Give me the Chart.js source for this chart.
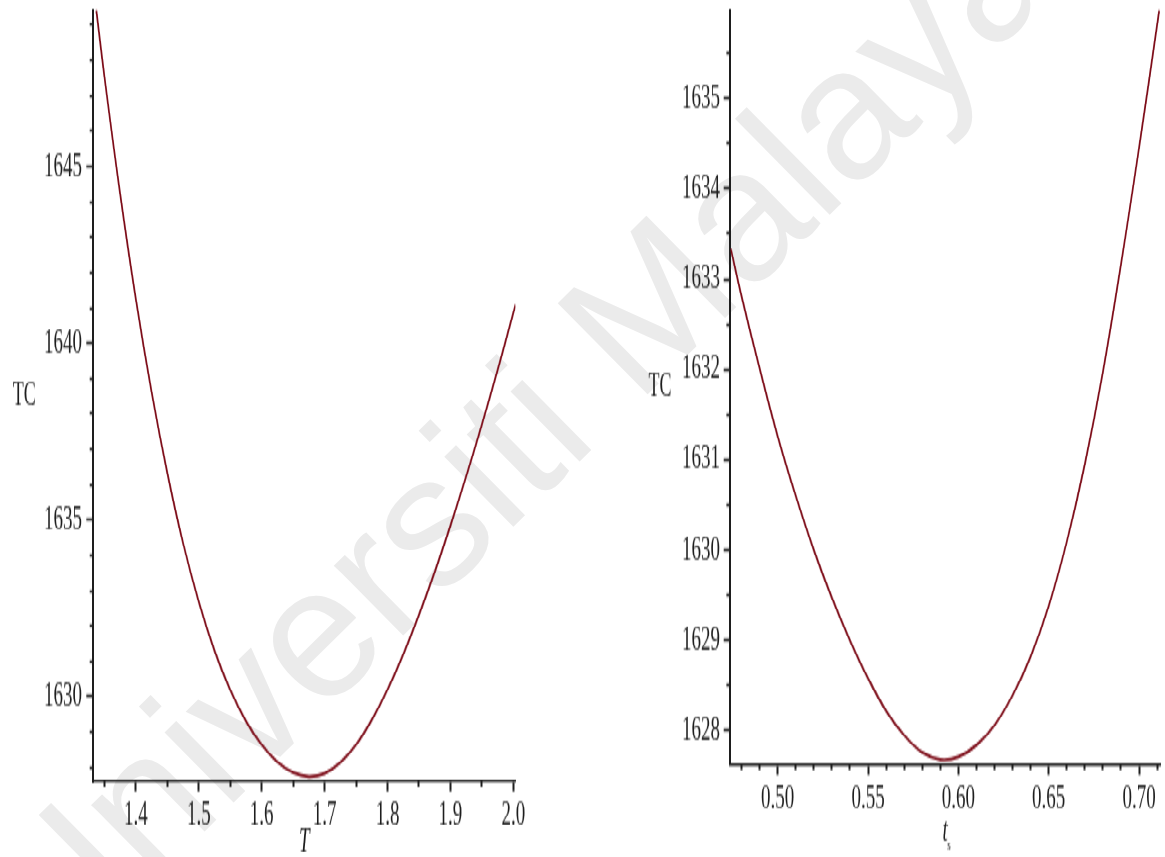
<!DOCTYPE html>
<html>
<head>
<meta charset="utf-8">
<script src="https://cdn.jsdelivr.net/npm/chart.js@4.4.1/dist/chart.umd.min.js"></script>
<style>
  html, body { margin: 0; padding: 0; background: #ffffff; overflow: hidden; }
  #page { position: relative; width: 1165px; height: 857px; }
  #mark { position: absolute; left: 0; top: 0; z-index: 0; }
  #stage {
    position: absolute; left: 0; top: 0; width: 1165px; height: 476px; z-index: 1;
    transform: scaleY(1.80042); transform-origin: 0 0;
  }
  #stage canvas { position: absolute; top: 0; }
  #leftPlot { left: 0; }
  #rightPlot { left: 600px; }
</style>
</head>
<body>
<div id="page">
  <canvas id="mark" width="1165" height="857"></canvas>
  <div id="stage">
    <canvas id="leftPlot" width="560" height="476"></canvas>
    <canvas id="rightPlot" width="565" height="476"></canvas>
  </div>
</div>
<script>
// ---- total cost TC against cycle length T ----
const cycleT = [1.3369, 1.35, 1.375, 1.40, 1.425, 1.45, 1.475, 1.50, 1.525, 1.55,
                1.575, 1.60, 1.625, 1.65, 1.675, 1.70, 1.725, 1.75, 1.775, 1.80,
                1.825, 1.85, 1.875, 1.90, 1.925, 1.95, 1.975, 2.00, 2.0035];
const costByT = [1649.43, 1647.53, 1644.21, 1641.23, 1638.61, 1636.32, 1634.34, 1632.68, 1631.30, 1630.19,
                 1629.31, 1628.64, 1628.15, 1627.85, 1627.74, 1627.83, 1628.14, 1628.64, 1629.34, 1630.20,
                 1631.20, 1632.32, 1633.53, 1634.84, 1636.23, 1637.70, 1639.24, 1640.86, 1641.08];

// ---- total cost TC against t_s ----
const shortT = [0.4741, 0.48, 0.49, 0.50, 0.51, 0.52, 0.53, 0.54, 0.55, 0.56, 0.57, 0.58, 0.59,
                0.60, 0.61, 0.62, 0.63, 0.64, 0.65, 0.66, 0.67, 0.68, 0.69, 0.70, 0.71, 0.7112];
const costByTs = [1633.33, 1632.81, 1632.01, 1631.26, 1630.60, 1630.00, 1629.47, 1629.00, 1628.58,
                  1628.22, 1627.95, 1627.76, 1627.68, 1627.71, 1627.84, 1628.06, 1628.39, 1628.82,
                  1629.38, 1630.09, 1630.95, 1631.97, 1633.16, 1634.45, 1635.81, 1635.98];

// ---- tick values and labels ----
const leftXMajor = [1.4, 1.5, 1.6, 1.7, 1.8, 1.9, 2.0];
const leftXLabels = ['1.4', '1.5', '1.6', '1.7', '1.8', '1.9', '2.0'];
const leftXMinor = [1.35, 1.45, 1.55, 1.65, 1.75, 1.85, 1.95];
const leftYMajor = [1630, 1635, 1640, 1645];
const leftYLabels = ['1630', '1635', '1640', '1645'];
const leftYMinor = [1628, 1629, 1631, 1632, 1633, 1634, 1636, 1637, 1638, 1639,
                    1641, 1642, 1643, 1644, 1646, 1647, 1648, 1649];

const rightXMajor = [0.50, 0.55, 0.60, 0.65, 0.70];
const rightXLabels = ['0.50', '0.55', '0.60', '0.65', '0.70'];
const rightXMinor = [0.48, 0.49, 0.51, 0.52, 0.53, 0.54, 0.56, 0.57, 0.58, 0.59,
                     0.61, 0.62, 0.63, 0.64, 0.66, 0.67, 0.68, 0.69, 0.71];
const rightYMajor = [1628, 1629, 1630, 1631, 1632, 1633, 1634, 1635];
const rightYLabels = ['1628', '1629', '1630', '1631', '1632', '1633', '1634', '1635'];
const rightYMinor = [1628.5, 1629.5, 1630.5, 1631.5, 1632.5, 1633.5, 1634.5, 1635.5];

const SERIF = '"Liberation Serif", "Times New Roman", serif';
const INK = '#1e1e1e';
const CURVE = '#7d0c18';

// Light diagonal watermark behind both plots
(function drawWatermark() {
  const ctx = document.getElementById('mark').getContext('2d');
  ctx.save();
  ctx.translate(55.5, 978.3);
  ctx.rotate(-44.6 * Math.PI / 180);
  ctx.font = '186px "Liberation Sans", Arial, sans-serif';
  ctx.fillStyle = '#ebebeb';
  ctx.textBaseline = 'alphabetic';
  ctx.fillText('Universiti Malaya', 0, 0);
  ctx.restore();
})();

function fixedTicks(values) {
  return (scale) => { scale.ticks = values.map(v => ({ value: v })); };
}

function majorX(cfg) {
  return {
    type: 'linear', position: 'bottom', weight: 1, min: cfg.min, max: cfg.max, bounds: 'data',
    afterBuildTicks: fixedTicks(cfg.values),
    afterFit: (s) => { s.height = cfg.height; s.paddingLeft = 0; s.paddingRight = 0; },
    ticks: {
      callback: (v, i) => cfg.labels[i], autoSkip: false, maxRotation: 0, minRotation: 0,
      padding: cfg.padding, color: INK, font: { family: SERIF, size: 19 }
    },
    grid: { display: true, drawOnChartArea: false, drawTicks: true, tickLength: cfg.tickLength, tickWidth: 2, tickColor: INK },
    border: { display: true, color: INK, width: 1.5 },
    title: cfg.title
  };
}

function minorX(cfg) {
  return {
    type: 'linear', position: 'bottom', weight: 0, min: cfg.min, max: cfg.max, bounds: 'data',
    afterBuildTicks: fixedTicks(cfg.values),
    afterFit: (s) => { s.height = 0; s.paddingLeft = 0; s.paddingRight = 0; },
    ticks: { display: false, autoSkip: false },
    grid: { display: true, drawOnChartArea: false, drawTicks: true, tickLength: cfg.tickLength, tickWidth: 2, tickColor: INK },
    border: { display: false }
  };
}

function majorY(cfg) {
  return {
    type: 'linear', position: 'left', weight: 1, min: cfg.min, max: cfg.max, bounds: 'data',
    afterBuildTicks: fixedTicks(cfg.values),
    afterFit: (s) => { s.width = cfg.width; s.paddingTop = 0; s.paddingBottom = 0; },
    ticks: {
      callback: (v, i) => cfg.labels[i], autoSkip: false,
      padding: cfg.padding, color: INK, font: { family: SERIF, size: 19 }
    },
    grid: { display: true, drawOnChartArea: false, drawTicks: true, tickLength: cfg.tickLength, tickWidth: 1.5, tickColor: INK },
    border: { display: true, color: INK, width: 2 }
  };
}

function minorY(cfg) {
  return {
    type: 'linear', position: 'left', weight: 0, min: cfg.min, max: cfg.max, bounds: 'data',
    afterBuildTicks: fixedTicks(cfg.values),
    afterFit: (s) => { s.width = 0; s.paddingTop = 0; s.paddingBottom = 0; },
    ticks: { display: false, autoSkip: false },
    grid: { display: true, drawOnChartArea: false, drawTicks: true, tickLength: cfg.tickLength, tickWidth: 1.5, tickColor: INK },
    border: { display: false }
  };
}

// Horizontal "TC" label beside the vertical axis, plus an optional subscript on the x title
function sideLabels(tcX, subscript) {
  return {
    id: 'sideLabels',
    afterDraw(chart) {
      const ctx = chart.ctx;
      const a = chart.chartArea;
      ctx.save();
      ctx.fillStyle = INK;
      ctx.font = '18px ' + SERIF;
      ctx.textAlign = 'center';
      ctx.textBaseline = 'middle';
      ctx.fillText('TC', tcX, (a.top + a.bottom) / 2);
      if (subscript) {
        const xs = chart.scales.x;
        ctx.font = '9px ' + SERIF;
        ctx.fillText(subscript.text, (xs.left + xs.right) / 2 + subscript.dx, subscript.y);
      }
      ctx.restore();
    }
  };
}

function lineChart(id, xs, ys, scales, plugin, padding) {
  return new Chart(document.getElementById(id), {
    type: 'line',
    data: {
      datasets: [{
        data: xs.map((x, i) => ({ x: x, y: ys[i] })),
        borderColor: CURVE,
        borderWidth: 1.7,
        pointRadius: 0,
        tension: 0.4,
        fill: false
      }]
    },
    options: {
      responsive: false,
      animation: false,
      devicePixelRatio: 1,
      events: [],
      layout: { padding: padding },
      plugins: { legend: { display: false }, tooltip: { enabled: false }, title: { display: false } },
      scales: scales
    },
    plugins: [plugin]
  });
}

// Left plot: TC versus T
lineChart('leftPlot', cycleT, costByT, {
  x: majorX({ min: 1.3317, max: 2.0035, values: leftXMajor, labels: leftXLabels, height: 41.82,
              tickLength: 5.6, padding: 1.5,
              title: { display: true, text: 'T', color: INK, padding: 0,
                       font: { family: SERIF, size: 19, style: 'italic', lineHeight: 0.8 } } }),
  xMinor: minorX({ min: 1.3317, max: 2.0035, values: leftXMinor, tickLength: 2.8 }),
  y: majorY({ min: 1627.595, max: 1649.43, values: leftYMajor, labels: leftYLabels, width: 93,
              tickLength: 6.7, padding: 4.3 }),
  yMinor: minorY({ min: 1627.595, max: 1649.43, values: leftYMinor, tickLength: 3.3 })
}, sideLabels(24.2, null), { left: 0, top: 5.554, right: 44.5, bottom: 0 });

// Right plot: TC versus t_s
lineChart('rightPlot', shortT, costByTs, {
  x: majorX({ min: 0.47343, max: 0.7119, values: rightXMajor, labels: rightXLabels, height: 51.65,
              tickLength: 6.1, padding: 2.5,
              title: { display: true, text: 't', color: INK, padding: { top: 0, bottom: 3 },
                       font: { family: SERIF, size: 19, style: 'italic' } } }),
  xMinor: minorX({ min: 0.47343, max: 0.7119, values: rightXMinor, tickLength: 3.3 }),
  y: majorY({ min: 1627.631, max: 1635.98, values: rightYMajor, labels: rightYLabels, width: 129.7,
              tickLength: 6, padding: 3.7 }),
  yMinor: minorY({ min: 1627.631, max: 1635.98, values: rightYMinor, tickLength: 3.3 })
}, sideLabels(60, { text: 's', dx: 4, y: 469.3 }), { left: 0, top: 5.554, right: 4.5, bottom: 0 });
</script>
</body>
</html>
